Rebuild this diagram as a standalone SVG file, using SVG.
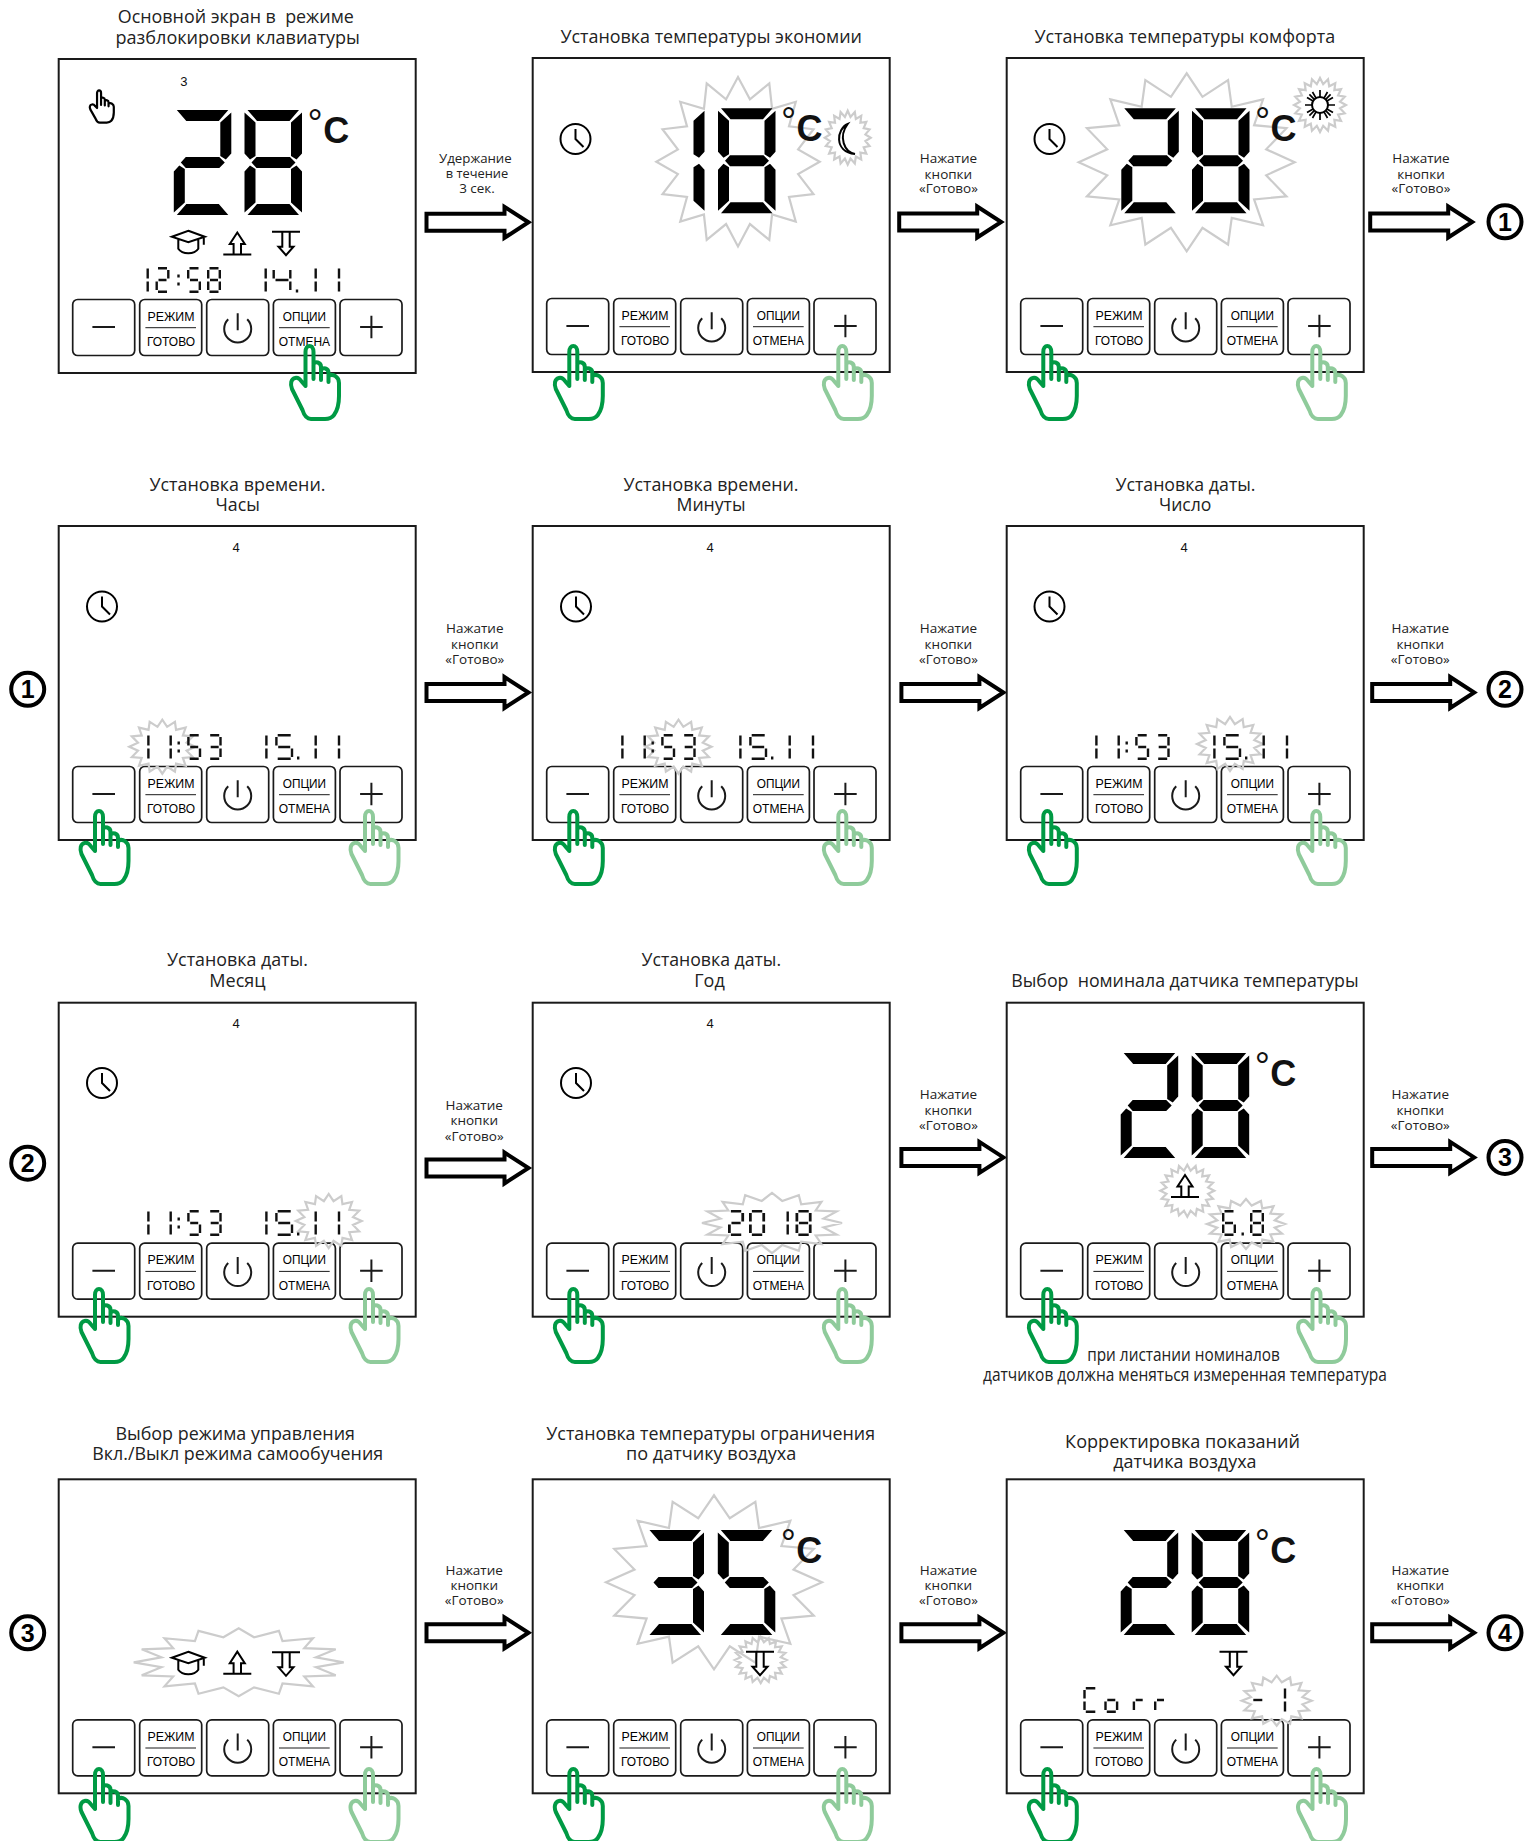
<svg xmlns="http://www.w3.org/2000/svg" width="1540" height="1841" viewBox="0 0 1540 1841">
<style>
text{font-family:"Liberation Sans",Arial,sans-serif;fill:#111;text-anchor:middle}
.t{font-family:"Open Sans","Noto Sans",sans-serif;font-size:19px;fill:#222}
.n{font-family:"Open Sans","Noto Sans",sans-serif;font-size:18px;fill:#222}
.a{font-family:"Open Sans","Noto Sans",sans-serif;font-size:13.5px;fill:#222}
.b{font-size:12px;fill:#000}
.s{font-size:13px}
.dg{font-size:38px;text-anchor:start;fill:#111}
.cb{font-size:36px;font-weight:700;text-anchor:start;fill:#111}
.k{font-size:25px;font-weight:700;fill:#000}
.p{fill:#fff;stroke:#1a1a1a;stroke-width:2}
.btn{fill:none;stroke:#1a1a1a;stroke-width:1.7}
.ln{fill:none;stroke:#1a1a1a;stroke-width:2}
.th{fill:none;stroke:#1a1a1a;stroke-width:1}
.lcd{fill:none;stroke:#111;stroke-width:2.4}
.seg{fill:#000}
.star{fill:none;stroke:#ccc;stroke-width:2.2;vector-effect:non-scaling-stroke}
.handp{fill:none;stroke-linecap:round;stroke-linejoin:round;vector-effect:non-scaling-stroke}
.hg{stroke:#009a44;stroke-width:4}
.hl{stroke:#8fcb9b;stroke-width:4}
.hb{stroke:#000;stroke-width:2.2}
.ic{fill:none;stroke:#000;stroke-width:2}
.ar{fill:#fff;stroke:#000;stroke-width:4}
.cr{fill:#fff;stroke:#000;stroke-width:4}
</style>
<defs>
<g id="frame">
<rect class="p" width="357" height="314"/>
<rect class="btn" x="14" y="240.5" width="62" height="56" rx="5"/>
<rect class="btn" x="81" y="240.5" width="62" height="56" rx="5"/>
<rect class="btn" x="148" y="240.5" width="62" height="56" rx="5"/>
<rect class="btn" x="214.7" y="240.5" width="62" height="56" rx="5"/>
<rect class="btn" x="281.3" y="240.5" width="62" height="56" rx="5"/>
<path class="ln" d="M33.7 268H56.3M301.4 268H324M312.7 256.7V279.3M179 254.3V271.3M169.5 260.3A13.5 13.5 0 1 0 188.5 260.3"/>
<path class="th" d="M86.7 268.7H137.3M220.3 268.7H271"/>
</g>
<polygon id="s16" class="star" points="100,0 73.6,14.6 92.4,38.3 62.4,41.7 70.7,70.7 41.7,62.4 38.3,92.4 14.6,73.6 0,100 -14.6,73.6 -38.3,92.4 -41.7,62.4 -70.7,70.7 -62.4,41.7 -92.4,38.3 -73.6,14.6 -100,0 -73.6,-14.6 -92.4,-38.3 -62.4,-41.7 -70.7,-70.7 -41.7,-62.4 -38.3,-92.4 -14.6,-73.6 0,-100 14.6,-73.6 38.3,-92.4 41.7,-62.4 70.7,-70.7 62.4,-41.7 92.4,-38.3 73.6,-14.6"/>
<polygon id="s20" class="star" points="100,0 77,12.2 95.1,30.9 69.5,35.4 80.9,58.8 55.2,55.2 58.8,80.9 35.4,69.5 30.9,95.1 12.2,77 0,100 -12.2,77 -30.9,95.1 -35.4,69.5 -58.8,80.9 -55.2,55.2 -80.9,58.8 -69.5,35.4 -95.1,30.9 -77,12.2 -100,0 -77,-12.2 -95.1,-30.9 -69.5,-35.4 -80.9,-58.8 -55.2,-55.2 -58.8,-80.9 -35.4,-69.5 -30.9,-95.1 -12.2,-77 0,-100 12.2,-77 30.9,-95.1 35.4,-69.5 58.8,-80.9 55.2,-55.2 80.9,-58.8 69.5,-35.4 95.1,-30.9 77,-12.2"/>
<path id="d1" class="seg" d="M57.5 2.5V43.5L52 49.5 46.5 46V12.5ZM57.5 102.5V61.5L52 55.5 46.5 59V92.5Z"/>
<path id="d2" class="seg" d="M3 0H54.5L45 11H12.5ZM57.5 2.5V43.5L52 49.5 46.5 46V12.5ZM7 52.5L12 47H45.5L51 52.5 45.5 58H12ZM0 102.5V61.5L5.5 55.5 11 59V92.5ZM3 105H54.5L45 94H12.5Z"/>
<path id="d3" class="seg" d="M3 0H54.5L45 11H12.5ZM57.5 2.5V43.5L52 49.5 46.5 46V12.5ZM7 52.5L12 47H45.5L51 52.5 45.5 58H12ZM57.5 102.5V61.5L52 55.5 46.5 59V92.5ZM3 105H54.5L45 94H12.5Z"/>
<path id="d5" class="seg" d="M3 0H54.5L45 11H12.5ZM0 2.5V43.5L5.5 49.5 11 46V12.5ZM7 52.5L12 47H45.5L51 52.5 45.5 58H12ZM57.5 102.5V61.5L52 55.5 46.5 59V92.5ZM3 105H54.5L45 94H12.5Z"/>
<path id="d8" class="seg" d="M3 0H54.5L45 11H12.5ZM57.5 2.5V43.5L52 49.5 46.5 46V12.5ZM7 52.5L12 47H45.5L51 52.5 45.5 58H12ZM57.5 102.5V61.5L52 55.5 46.5 59V92.5ZM3 105H54.5L45 94H12.5ZM0 102.5V61.5L5.5 55.5 11 59V92.5ZM0 2.5V43.5L5.5 49.5 11 46V12.5Z"/>
<path id="l1" class="lcd" d="M1.2 1.5V11.5M1.2 14.5V24.5"/>
<path id="l2" class="lcd" d="M2.5 1.2H11.5M12.8 3V11.5M3 13H11M1.2 14.5V23M2.5 24.8H11.5"/>
<path id="l3" class="lcd" d="M2.5 1.2H11.5M12.8 3V11.5M3 13H11M12.8 14.5V23M2.5 24.8H11.5"/>
<path id="l5" class="lcd" d="M2.5 1.2H11.5M1.2 3V11.5M3 13H11M12.8 14.5V23M2.5 24.8H11.5"/>
<path id="l6" class="lcd" d="M2.5 1.2H11.5M1.2 3V11.5M3 13H11M12.8 14.5V23M2.5 24.8H11.5M1.2 14.5V23"/>
<path id="l8" class="lcd" d="M2.5 1.2H11.5M1.2 3V11.5M12.8 3V11.5M3 13H11M12.8 14.5V23M2.5 24.8H11.5M1.2 14.5V23"/>
<path id="l0" class="lcd" d="M2.5 1.2H11.5M1.2 3V11.5M12.8 3V11.5M12.8 14.5V23M2.5 24.8H11.5M1.2 14.5V23"/>
<path id="L4" class="lcd" d="M1.2 3V11.5M3 13H16M17.8 3V11.5M17.8 14.5V23"/>
<path id="L5" class="lcd" d="M2.5 1.2H15.5M1.2 3V11.5M3 13H15M16.8 14.5V23M2.5 24.8H15.5"/>
<path id="lC" class="lcd" d="M2.5 1.2H12M1.2 3V11.5M1.2 14.5V23M2.5 24.8H12"/>
<path id="lo" class="lcd" d="M3 13H11M12.8 14.5V23M2.5 24.8H11.5M1.2 14.5V23"/>
<path id="lr" class="lcd" d="M3 13H10M1.2 14.5V23"/>
<path id="colon" class="lcd" d="M0 7.5V10.5M0 15.5V18.5"/>
<path id="dot" class="lcd" d="M0 22.5V25.5"/>
<g id="td1153">
<use href="#l1" x="89.2"/><use href="#l1" x="111.5"/><use href="#colon" x="120.7"/><use href="#l5" x="129.2"/><use href="#l3" x="149.7"/>
<use href="#l1" x="207.2"/><use href="#L5" x="217.2"/><use href="#dot" x="240.2"/><use href="#l1" x="256.5"/><use href="#l1" x="279.8"/>
</g>
<path id="hand" class="handp" d="M23.5 46V12C23.5 4 31.5 4 31.5 12V39M31.5 24C33 21 39 22 39 27V40M39 30C41 27 46.5 28 46.5 33V42M46.5 36C51 33 57 37 57 43V56C57 64 55 71 52 75C49 79 46 79 43 79H29C25 79 22 75 20.5 70L10 49C8 44 9 39 13 38C16 37 18 39 20 42L23.5 46"/>
<g id="clock" class="ic"><circle r="15"/><path d="M0 -10V0L8 8"/></g>
<path id="up" class="ic" d="M-3.7 22V11.5H-7.5L0 0 7.5 11.5H3.7V22M-14 22H14"/>
<path id="down" class="ic" d="M-14 0H14M-3.7 0V15H-7.5L0 23.5 7.5 15H3.7V0"/>
<g id="cap" class="ic"><path d="M0 0L16.5 6 0 11.5 -16.5 6ZM-10 9V18C-6 24 6 24 10 18V9M15.5 6V14"/></g>
<path id="arrow" class="ar" d="M-102 -8.5H-24V-15.5L0 0-24 15.5V8.5H-102Z"/>
</defs>

<g id="connectors">
<use href="#arrow" x="528.5" y="222.3"/>
<use href="#arrow" x="1001.2" y="222"/>
<use href="#arrow" x="1472.2" y="222"/>
<use href="#arrow" x="528.5" y="692.5"/>
<use href="#arrow" x="1003.4" y="692.5"/>
<use href="#arrow" x="1474.2" y="692.5"/>
<use href="#arrow" x="528.5" y="1168"/>
<use href="#arrow" x="1003.4" y="1157.4"/>
<use href="#arrow" x="1474.2" y="1157.4"/>
<use href="#arrow" x="528.5" y="1632.8"/>
<use href="#arrow" x="1003.4" y="1632.8"/>
<use href="#arrow" x="1474.2" y="1632.8"/>
<text class="a" x="475.4" y="163.3" textLength="72.7" lengthAdjust="spacingAndGlyphs">Удержание</text>
<text class="a" x="477" y="178.3" textLength="62.6" lengthAdjust="spacingAndGlyphs">в течение</text>
<text class="a" x="477" y="193.3" textLength="35.7" lengthAdjust="spacingAndGlyphs">3 сек.</text>
<g id="lab-r1a2"><text class="a" x="948.4" y="163.3">Нажатие</text><text class="a" x="948.4" y="178.5">кнопки</text><text class="a" x="948.4" y="193.3">«Готово»</text></g>
<g id="lab-r1a3"><text class="a" x="1421" y="163.3">Нажатие</text><text class="a" x="1421" y="178.5">кнопки</text><text class="a" x="1421" y="193.3">«Готово»</text></g>
<g id="lab-r2a1"><text class="a" x="474.8" y="633.4">Нажатие</text><text class="a" x="474.8" y="648.6">кнопки</text><text class="a" x="474.8" y="663.9">«Готово»</text></g>
<g id="lab-r2a2"><text class="a" x="948.4" y="633.4">Нажатие</text><text class="a" x="948.4" y="648.6">кнопки</text><text class="a" x="948.4" y="663.9">«Готово»</text></g>
<g id="lab-r2a3"><text class="a" x="1420.3" y="633.4">Нажатие</text><text class="a" x="1420.3" y="648.6">кнопки</text><text class="a" x="1420.3" y="663.9">«Готово»</text></g>
<g id="lab-r3a1"><text class="a" x="474.2" y="1110">Нажатие</text><text class="a" x="474.2" y="1125.2">кнопки</text><text class="a" x="474.2" y="1140.5">«Готово»</text></g>
<g id="lab-r3a2"><text class="a" x="948.4" y="1099.4">Нажатие</text><text class="a" x="948.4" y="1114.6">кнопки</text><text class="a" x="948.4" y="1129.9">«Готово»</text></g>
<g id="lab-r3a3"><text class="a" x="1420.3" y="1099.4">Нажатие</text><text class="a" x="1420.3" y="1114.6">кнопки</text><text class="a" x="1420.3" y="1129.9">«Готово»</text></g>
<g id="lab-r4a1"><text class="a" x="474.2" y="1574.8">Нажатие</text><text class="a" x="474.2" y="1590">кнопки</text><text class="a" x="474.2" y="1605.3">«Готово»</text></g>
<g id="lab-r4a2"><text class="a" x="948.4" y="1574.8">Нажатие</text><text class="a" x="948.4" y="1590">кнопки</text><text class="a" x="948.4" y="1605.3">«Готово»</text></g>
<g id="lab-r4a3"><text class="a" x="1420.3" y="1574.8">Нажатие</text><text class="a" x="1420.3" y="1590">кнопки</text><text class="a" x="1420.3" y="1605.3">«Готово»</text></g>
</g>

<g id="panel-1">
<text class="t" x="235.8" y="23" textLength="236" lengthAdjust="spacingAndGlyphs" xml:space="preserve">Основной экран в  режиме</text>
<text class="t" x="237.7" y="43.5" textLength="244.3" lengthAdjust="spacingAndGlyphs">разблокировки клавиатуры</text>
<g transform="translate(58.7,59)"><use href="#frame"/>
<text class="b" x="112.3" y="261.5" textLength="47" lengthAdjust="spacingAndGlyphs">РЕЖИМ</text><text class="b" x="112.3" y="287" textLength="48" lengthAdjust="spacingAndGlyphs">ГОТОВО</text><text class="b" x="245.7" y="261.5" textLength="43.3" lengthAdjust="spacingAndGlyphs">ОПЦИИ</text><text class="b" x="245.7" y="287" textLength="51.3" lengthAdjust="spacingAndGlyphs">ОТМЕНА</text>
<text class="s" x="125.3" y="27">3</text></g>
<use href="#hand" class="hb" transform="translate(85.3,87.8) scale(.5,.44)"/>
<use href="#d2" x="173.8" y="110"/><use href="#d8" x="244.5" y="110"/>
<text><tspan class="dg" x="307.5" y="136">°</tspan><tspan class="cb" x="323.2" y="143">C</tspan></text>
<use href="#cap" x="188.3" y="230.7"/><use href="#up" x="237.3" y="232.5"/><use href="#down" x="286" y="231.7"/>
<g transform="translate(0,267)"><use href="#l1" x="146.5"/><use href="#l2" x="155.5"/><use href="#colon" x="178.5"/><use href="#l5" x="187"/><use href="#l8" x="207"/><use href="#l1" x="264.5"/><use href="#L4" x="272.5"/><use href="#dot" x="297"/><use href="#l1" x="314.5"/><use href="#l1" x="337.8"/></g>
<use href="#hand" class="hg" x="282" y="340"/>
</g>

<g id="panel-2">
<text class="t" x="711.2" y="43" textLength="301.6" lengthAdjust="spacingAndGlyphs">Установка температуры экономии</text>
<g transform="translate(532.7,58)"><use href="#frame"/>
<text class="b" x="112.3" y="261.5" textLength="47" lengthAdjust="spacingAndGlyphs">РЕЖИМ</text><text class="b" x="112.3" y="287" textLength="48" lengthAdjust="spacingAndGlyphs">ГОТОВО</text><text class="b" x="245.7" y="261.5" textLength="43.3" lengthAdjust="spacingAndGlyphs">ОПЦИИ</text><text class="b" x="245.7" y="287" textLength="51.3" lengthAdjust="spacingAndGlyphs">ОТМЕНА</text></g>
<use href="#s16" transform="translate(738,161.7) scale(.817,.847)"/>
<use href="#s20" transform="translate(847.7,137.7) scale(.23,.27)"/>
<use href="#clock" x="575.5" y="139"/>
<use href="#d1" x="647" y="108.3"/><use href="#d8" x="718" y="108.3"/>
<text><tspan class="dg" x="781" y="134">°</tspan><tspan class="cb" x="796.5" y="141.3">C</tspan></text>
<path class="ic" d="M847.7 124C836.7 128.3 833.3 151.7 855 154C844.3 152 838 137 847.7 124Z"/>
<use href="#hand" class="hg" x="545.8" y="340"/><use href="#hand" class="hl" x="814.8" y="340"/>
</g>

<g id="panel-3">
<text class="t" x="1184.8" y="43" textLength="300.6" lengthAdjust="spacingAndGlyphs">Установка температуры комфорта</text>
<g transform="translate(1006.7,58)"><use href="#frame"/>
<text class="b" x="112.3" y="261.5" textLength="47" lengthAdjust="spacingAndGlyphs">РЕЖИМ</text><text class="b" x="112.3" y="287" textLength="48" lengthAdjust="spacingAndGlyphs">ГОТОВО</text><text class="b" x="245.7" y="261.5" textLength="43.3" lengthAdjust="spacingAndGlyphs">ОПЦИИ</text><text class="b" x="245.7" y="287" textLength="51.3" lengthAdjust="spacingAndGlyphs">ОТМЕНА</text></g>
<use href="#s16" transform="translate(1186.7,162.3) scale(1.08,.89)"/>
<use href="#s20" transform="translate(1320,105) scale(.26,.27)"/>
<use href="#clock" x="1049.5" y="139"/>
<use href="#d2" x="1121.3" y="108.3"/><use href="#d8" x="1192" y="108.3"/>
<text><tspan class="dg" x="1255" y="134">°</tspan><tspan class="cb" x="1270.5" y="141.3">C</tspan></text>
<g class="ic"><circle cx="1320" cy="105" r="8"/><path d="M1320 90V97M1320 113V120M1305 105H1312M1328 105H1335M1309.4 94.4L1314.3 99.3M1325.7 110.7L1330.6 115.6M1330.6 94.4L1325.7 99.3M1314.3 110.7L1309.4 115.6M1312.5 92L1316 98.1M1324 111.9L1327.5 118M1327.5 92L1324 98.1M1316 111.9L1312.5 118M1307 97.5L1313.1 101M1326.9 109L1333 112.5M1333 97.5L1326.9 101M1313.1 109L1307 112.5" stroke-width="1.7"/></g>
<use href="#hand" class="hg" x="1019.8" y="340"/><use href="#hand" class="hl" x="1288.8" y="340"/>
</g>

<g id="link-1r"><circle class="cr" cx="1505" cy="221.8" r="16.5"/><text class="k" x="1505" y="230.5">1</text></g>

<g id="panel-4">
<text class="t" x="237.5" y="490.7" textLength="176" lengthAdjust="spacingAndGlyphs">Установка времени.</text>
<text class="t" x="237.7" y="511" textLength="44.4" lengthAdjust="spacingAndGlyphs">Часы</text>
<g transform="translate(58.7,526)"><use href="#frame"/>
<text class="b" x="112.3" y="261.5" textLength="47" lengthAdjust="spacingAndGlyphs">РЕЖИМ</text><text class="b" x="112.3" y="287" textLength="48" lengthAdjust="spacingAndGlyphs">ГОТОВО</text><text class="b" x="245.7" y="261.5" textLength="43.3" lengthAdjust="spacingAndGlyphs">ОПЦИИ</text><text class="b" x="245.7" y="287" textLength="51.3" lengthAdjust="spacingAndGlyphs">ОТМЕНА</text>
<text class="s" x="177.4" y="25.7">4</text></g>
<use href="#clock" x="102" y="606.5"/>
<use href="#s16" transform="translate(162.3,746.7) scale(.33,.27)"/>
<use href="#td1153" x="58" y="734"/>
<use href="#hand" class="hg" x="71.5" y="805"/><use href="#hand" class="hl" x="341.5" y="805"/>
</g>

<g id="panel-5">
<text class="t" x="711" y="490.7" textLength="175" lengthAdjust="spacingAndGlyphs">Установка времени.</text>
<text class="t" x="711" y="511" textLength="69" lengthAdjust="spacingAndGlyphs">Минуты</text>
<g transform="translate(532.7,526)"><use href="#frame"/>
<text class="b" x="112.3" y="261.5" textLength="47" lengthAdjust="spacingAndGlyphs">РЕЖИМ</text><text class="b" x="112.3" y="287" textLength="48" lengthAdjust="spacingAndGlyphs">ГОТОВО</text><text class="b" x="245.7" y="261.5" textLength="43.3" lengthAdjust="spacingAndGlyphs">ОПЦИИ</text><text class="b" x="245.7" y="287" textLength="51.3" lengthAdjust="spacingAndGlyphs">ОТМЕНА</text>
<text class="s" x="177.4" y="25.7">4</text></g>
<use href="#clock" x="576" y="606.5"/>
<use href="#s16" transform="translate(678.5,746.7) scale(.33,.27)"/>
<use href="#td1153" x="532" y="734"/>
<use href="#hand" class="hg" x="545.8" y="805"/><use href="#hand" class="hl" x="814.8" y="805"/>
</g>

<g id="panel-6">
<text class="t" x="1185.5" y="490.7" textLength="140" lengthAdjust="spacingAndGlyphs">Установка даты.</text>
<text class="t" x="1185.2" y="511" textLength="52.5" lengthAdjust="spacingAndGlyphs">Число</text>
<g transform="translate(1006.7,526)"><use href="#frame"/>
<text class="b" x="112.3" y="261.5" textLength="47" lengthAdjust="spacingAndGlyphs">РЕЖИМ</text><text class="b" x="112.3" y="287" textLength="48" lengthAdjust="spacingAndGlyphs">ГОТОВО</text><text class="b" x="245.7" y="261.5" textLength="43.3" lengthAdjust="spacingAndGlyphs">ОПЦИИ</text><text class="b" x="245.7" y="287" textLength="51.3" lengthAdjust="spacingAndGlyphs">ОТМЕНА</text>
<text class="s" x="177.4" y="25.7">4</text></g>
<use href="#clock" x="1049.5" y="606.5"/>
<use href="#s16" transform="translate(1230,744) scale(.33,.27)"/>
<use href="#td1153" x="1006" y="734"/>
<use href="#hand" class="hg" x="1019.8" y="805"/><use href="#hand" class="hl" x="1288.8" y="805"/>
</g>

<g id="link-1l"><circle class="cr" cx="27.7" cy="689.3" r="16.5"/><text class="k" x="27.7" y="698">1</text></g>
<g id="link-2r"><circle class="cr" cx="1505" cy="689.3" r="16.5"/><text class="k" x="1505" y="698">2</text></g>

<g id="panel-7">
<text class="t" x="237.5" y="966" textLength="140.8" lengthAdjust="spacingAndGlyphs">Установка даты.</text>
<text class="t" x="237.5" y="986.5" textLength="56.3" lengthAdjust="spacingAndGlyphs">Месяц</text>
<g transform="translate(58.7,1002.7)"><use href="#frame"/>
<text class="b" x="112.3" y="261.5" textLength="47" lengthAdjust="spacingAndGlyphs">РЕЖИМ</text><text class="b" x="112.3" y="287" textLength="48" lengthAdjust="spacingAndGlyphs">ГОТОВО</text><text class="b" x="245.7" y="261.5" textLength="43.3" lengthAdjust="spacingAndGlyphs">ОПЦИИ</text><text class="b" x="245.7" y="287" textLength="51.3" lengthAdjust="spacingAndGlyphs">ОТМЕНА</text>
<text class="s" x="177.4" y="25.7">4</text></g>
<use href="#clock" x="102" y="1083"/>
<use href="#s16" transform="translate(328.7,1221) scale(.33,.27)"/>
<use href="#td1153" x="58" y="1210"/>
<use href="#hand" class="hg" x="71.5" y="1283"/><use href="#hand" class="hl" x="341.5" y="1283"/>
</g>

<g id="panel-8">
<text class="t" x="711.3" y="966" textLength="139.6" lengthAdjust="spacingAndGlyphs">Установка даты.</text>
<text class="t" x="709.5" y="986.5" textLength="30.5" lengthAdjust="spacingAndGlyphs">Год</text>
<g transform="translate(532.7,1002.7)"><use href="#frame"/>
<text class="b" x="112.3" y="261.5" textLength="47" lengthAdjust="spacingAndGlyphs">РЕЖИМ</text><text class="b" x="112.3" y="287" textLength="48" lengthAdjust="spacingAndGlyphs">ГОТОВО</text><text class="b" x="245.7" y="261.5" textLength="43.3" lengthAdjust="spacingAndGlyphs">ОПЦИИ</text><text class="b" x="245.7" y="287" textLength="51.3" lengthAdjust="spacingAndGlyphs">ОТМЕНА</text>
<text class="s" x="177.4" y="25.7">4</text></g>
<use href="#clock" x="576" y="1083"/>
<use href="#s16" transform="translate(772,1223) scale(.7,.3)"/>
<g transform="translate(0,1210)"><use href="#l2" transform="translate(728,0) scale(1.15,1)"/><use href="#l0" transform="translate(749,0) scale(1.15,1)"/><use href="#l1" x="786.5"/><use href="#l8" transform="translate(795.5,0) scale(1.15,1)"/></g>
<use href="#hand" class="hg" x="545.8" y="1283"/><use href="#hand" class="hl" x="814.8" y="1283"/>
</g>

<g id="panel-9">
<text class="t" x="1184.9" y="986.5" textLength="347.3" lengthAdjust="spacingAndGlyphs" xml:space="preserve">Выбор  номинала датчика температуры</text>
<g transform="translate(1006.7,1002.7)"><use href="#frame"/>
<text class="b" x="112.3" y="261.5" textLength="47" lengthAdjust="spacingAndGlyphs">РЕЖИМ</text><text class="b" x="112.3" y="287" textLength="48" lengthAdjust="spacingAndGlyphs">ГОТОВО</text><text class="b" x="245.7" y="261.5" textLength="43.3" lengthAdjust="spacingAndGlyphs">ОПЦИИ</text><text class="b" x="245.7" y="287" textLength="51.3" lengthAdjust="spacingAndGlyphs">ОТМЕНА</text></g>
<use href="#d2" x="1120.7" y="1053"/><use href="#d8" x="1191.7" y="1053"/>
<text><tspan class="dg" x="1254.7" y="1079">°</tspan><tspan class="cb" x="1270.2" y="1086">C</tspan></text>
<use href="#s20" transform="translate(1187.3,1190.7) scale(.27,.26)"/>
<use href="#up" x="1185" y="1175"/>
<use href="#s16" transform="translate(1246,1224) scale(.39,.25)"/>
<g transform="translate(0,1210)"><use href="#l6" x="1222"/><use href="#dot" x="1242.7"/><use href="#l8" x="1250"/></g>
<use href="#hand" class="hg" x="1019.8" y="1283"/><use href="#hand" class="hl" x="1289" y="1283"/>
<text class="n" x="1183.5" y="1360.7" textLength="192.6" lengthAdjust="spacingAndGlyphs">при листании номиналов</text>
<text class="n" x="1184.9" y="1380.7" textLength="403.8" lengthAdjust="spacingAndGlyphs">датчиков должна меняться измеренная температура</text>
</g>

<g id="link-2l"><circle class="cr" cx="27.7" cy="1163.2" r="16.5"/><text class="k" x="27.7" y="1172">2</text></g>
<g id="link-3r"><circle class="cr" cx="1505" cy="1157.4" r="16.5"/><text class="k" x="1505" y="1166">3</text></g>

<g id="panel-10">
<text class="t" x="235.2" y="1439.5" textLength="239.5" lengthAdjust="spacingAndGlyphs">Выбор режима управления</text>
<text class="t" x="237.7" y="1459.5" textLength="291" lengthAdjust="spacingAndGlyphs">Вкл./Выкл режима самообучения</text>
<g transform="translate(58.7,1479.3)"><use href="#frame"/>
<text class="b" x="112.3" y="261.5" textLength="47" lengthAdjust="spacingAndGlyphs">РЕЖИМ</text><text class="b" x="112.3" y="287" textLength="48" lengthAdjust="spacingAndGlyphs">ГОТОВО</text><text class="b" x="245.7" y="261.5" textLength="43.3" lengthAdjust="spacingAndGlyphs">ОПЦИИ</text><text class="b" x="245.7" y="287" textLength="51.3" lengthAdjust="spacingAndGlyphs">ОТМЕНА</text></g>
<use href="#s16" transform="translate(238.7,1662.3) scale(1.05,.34)"/>
<use href="#cap" x="188.3" y="1651.7"/><use href="#up" x="237.3" y="1651.7"/><use href="#down" x="286" y="1652.3"/>
<use href="#hand" class="hg" x="71.5" y="1763"/><use href="#hand" class="hl" x="341.5" y="1763"/>
</g>

<g id="panel-11">
<text class="t" x="710.7" y="1439.5" textLength="328.7" lengthAdjust="spacingAndGlyphs">Установка температуры ограничения</text>
<text class="t" x="711.2" y="1459.5" textLength="170.2" lengthAdjust="spacingAndGlyphs">по датчику воздуха</text>
<g transform="translate(532.7,1479.3)"><use href="#frame"/>
<text class="b" x="112.3" y="261.5" textLength="47" lengthAdjust="spacingAndGlyphs">РЕЖИМ</text><text class="b" x="112.3" y="287" textLength="48" lengthAdjust="spacingAndGlyphs">ГОТОВО</text><text class="b" x="245.7" y="261.5" textLength="43.3" lengthAdjust="spacingAndGlyphs">ОПЦИИ</text><text class="b" x="245.7" y="287" textLength="51.3" lengthAdjust="spacingAndGlyphs">ОТМЕНА</text></g>
<use href="#s16" transform="translate(714,1582.3) scale(1.08,.87)"/>
<use href="#s20" transform="translate(760.7,1660) scale(.26,.23)"/>
<use href="#d3" x="646.5" y="1530"/><use href="#d5" x="717.8" y="1530"/>
<text><tspan class="dg" x="780.8" y="1556">°</tspan><tspan class="cb" x="796.3" y="1563">C</tspan></text>
<use href="#down" x="760" y="1651.7"/>
<use href="#hand" class="hg" x="545.8" y="1763"/><use href="#hand" class="hl" x="814.8" y="1763"/>
</g>

<g id="panel-12">
<text class="t" x="1182.5" y="1447.5" textLength="234.8" lengthAdjust="spacingAndGlyphs">Корректировка показаний</text>
<text class="t" x="1184.9" y="1467.5" textLength="143.2" lengthAdjust="spacingAndGlyphs">датчика воздуха</text>
<g transform="translate(1006.7,1479.3)"><use href="#frame"/>
<text class="b" x="112.3" y="261.5" textLength="47" lengthAdjust="spacingAndGlyphs">РЕЖИМ</text><text class="b" x="112.3" y="287" textLength="48" lengthAdjust="spacingAndGlyphs">ГОТОВО</text><text class="b" x="245.7" y="261.5" textLength="43.3" lengthAdjust="spacingAndGlyphs">ОПЦИИ</text><text class="b" x="245.7" y="287" textLength="51.3" lengthAdjust="spacingAndGlyphs">ОТМЕНА</text></g>
<use href="#d2" x="1120.7" y="1530"/><use href="#d8" x="1191.7" y="1530"/>
<text><tspan class="dg" x="1254.7" y="1556">°</tspan><tspan class="cb" x="1270.2" y="1563">C</tspan></text>
<use href="#down" x="1233.5" y="1651.7"/>
<use href="#s16" transform="translate(1276.7,1700.7) scale(.35,.25)"/>
<g transform="translate(0,1687)"><use href="#lC" x="1083.3"/><use href="#lo" x="1104.3"/><use href="#lr" x="1132.7"/><use href="#lr" x="1154"/><path class="lcd" d="M1253.3 13H1262.3"/><use href="#l1" x="1283.8"/></g>
<use href="#hand" class="hg" x="1019.8" y="1763"/><use href="#hand" class="hl" x="1289" y="1763"/>
</g>

<g id="link-3l"><circle class="cr" cx="27.7" cy="1632.8" r="16.5"/><text class="k" x="27.7" y="1641.5">3</text></g>
<g id="link-4r"><circle class="cr" cx="1505" cy="1632.8" r="16.5"/><text class="k" x="1505" y="1641.5">4</text></g>
</svg>
